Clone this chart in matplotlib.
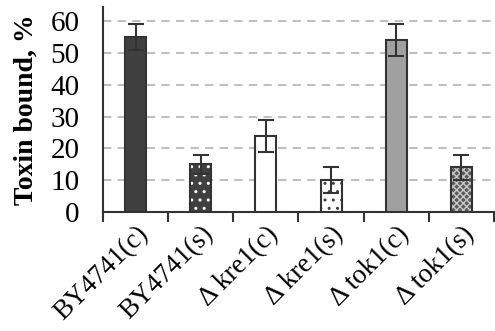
import numpy as np
import matplotlib.pyplot as plt

# datos
categorias = ['BY4741(c)', 'BY4741(s)', 'Δ kre1(c)', 'Δ kre1(s)', 'Δ tok1(c)', 'Δ tok1(s)']
valores = [55, 15, 24, 10, 54, 14]
errores = [4, 3, 5, 4, 5, 4]

# estilo de cada barra: relleno, trama, color de trama
rellenos = ['#404040', '#404040', 'white', 'white', '#a0a0a0', '#5a5a5a']
tramas = [None, '..', None, '..', None, 'xxxxx']
color_trama = ['#404040', 'white', 'white', '#404040', '#a0a0a0', '#c8c8c8']

plt.rcParams['font.family'] = ['Liberation Serif', 'DejaVu Serif']
plt.rcParams['hatch.linewidth'] = 1.0

fig = plt.figure(figsize=(4.95, 3.31), dpi=100)
ax = fig.add_axes([0.208, 0.3595, 0.790, 0.62])

x = np.arange(len(categorias))
for i in x:
    # relleno con trama (el color de la trama sale del edgecolor)
    ax.bar(i, valores[i], width=0.32, color=rellenos[i], hatch=tramas[i],
           edgecolor=color_trama[i], linewidth=0, zorder=3)
    # contorno
    ax.bar(i, valores[i], width=0.32, fill=False, edgecolor='#333333',
           linewidth=1.5, zorder=4)

ax.errorbar(x, valores, yerr=errores, fmt='none', ecolor='#333333',
            elinewidth=1.5, capsize=6, capthick=1.5, zorder=5)

ax.set_xlim(-0.5, len(categorias) - 0.5)
ax.set_ylim(0, 64.5)
ax.set_yticks(range(0, 61, 10))
ax.tick_params(axis='y', length=0, labelsize=21, pad=17)
ax.yaxis.grid(True, linestyle=(0, (4, 3)), color='#c0c0c0', linewidth=1.5, zorder=0)

ax.set_xticks(x)
ax.set_xticklabels(categorias, rotation=45, ha='right', rotation_mode='anchor',
                   fontsize=19.5)
ax.tick_params(axis='x', which='major', length=0, pad=7)
ax.set_xticks(np.arange(-0.5, len(categorias)), minor=True)
ax.tick_params(axis='x', which='minor', length=7, width=1.5, color='#333333')

for lado in ['top', 'right']:
    ax.spines[lado].set_visible(False)
for lado in ['left', 'bottom']:
    ax.spines[lado].set_color('#333333')
    ax.spines[lado].set_linewidth(1.5)

ax.set_ylabel('Toxin bound, %', fontsize=20, fontweight='bold', labelpad=8)

fig.savefig('out.png', dpi=100)
